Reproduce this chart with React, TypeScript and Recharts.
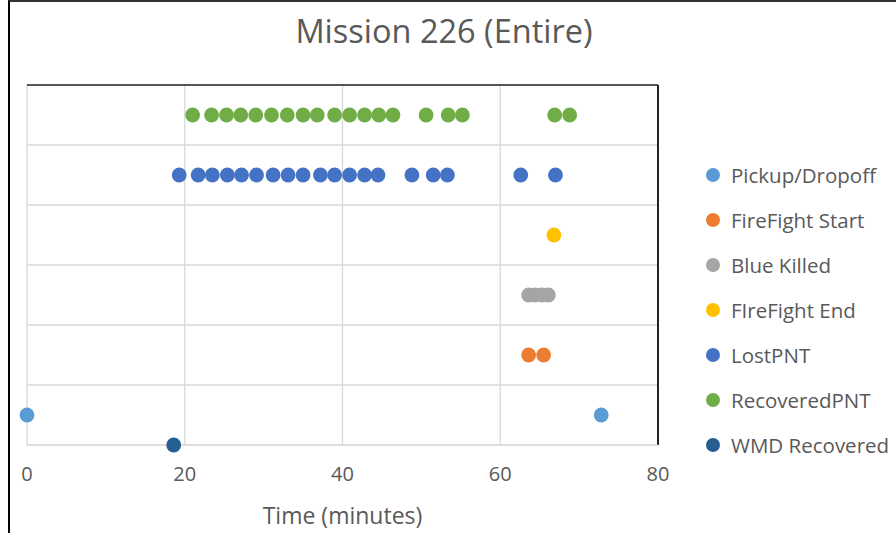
import {
  CartesianGrid,
  ReferenceLine,
  Scatter,
  ScatterChart,
  XAxis,
  YAxis,
} from "recharts";

// Excel-like palette
const TEXT = "#595959";
const GRID = "#d9d9d9";
const FONT = "'Open Sans', sans-serif";

const X_TICKS = [0, 20, 40, 60, 80];
const Y_TICKS = [0, 1, 2, 3, 4, 5, 6];

// minutes of each event
const PICKUP = [0, 72.8];
const FIREFIGHT_START = [63.6, 65.5];
const BLUE_KILLED = [63.6, 64.4, 65.3, 66.1];
const FIREFIGHT_END = [66.8];
const LOST_PNT = [
  19.3, 21.7, 23.5, 25.4, 27.2, 29.1, 31.2, 33.1, 35.0, 37.2, 39.0, 40.9, 42.8,
  44.5, 48.8, 51.5, 53.3, 62.6, 67.0,
];
const RECOVERED_PNT = [
  21.0, 23.4, 25.3, 27.1, 29.0, 31.0, 33.0, 35.0, 36.8, 39.0, 40.9, 42.8, 44.6,
  46.4, 50.6, 53.4, 55.2, 66.9, 68.8,
];
const WMD_RECOVERED = [18.6];

const SERIES = [
  { name: "Pickup/Dropoff", times: PICKUP, row: 0.5, color: "#5B9BD5" },
  { name: "FireFight Start", times: FIREFIGHT_START, row: 1.5, color: "#ED7D31" },
  { name: "Blue Killed", times: BLUE_KILLED, row: 2.5, color: "#A5A5A5" },
  { name: "FIreFight End", times: FIREFIGHT_END, row: 3.5, color: "#FFC000" },
  { name: "LostPNT", times: LOST_PNT, row: 4.5, color: "#4472C4" },
  { name: "RecoveredPNT", times: RECOVERED_PNT, row: 5.5, color: "#70AD47" },
  { name: "WMD Recovered", times: WMD_RECOVERED, row: 0, color: "#255E91" },
];

function dot(color: string) {
  return (props: { cx?: number; cy?: number }) => (
    <circle cx={props.cx} cy={props.cy} r={7.4} fill={color} />
  );
}

function LegendList() {
  return (
    <div
      style={{
        position: "absolute",
        left: 706,
        top: 152,
        fontFamily: FONT,
        fontSize: 20.5,
        color: TEXT,
      }}
    >
      {SERIES.map((s) => (
        <div
          key={s.name}
          style={{ display: "flex", alignItems: "center", height: 45, whiteSpace: "nowrap" }}
        >
          <span
            style={{
              width: 14,
              height: 14,
              borderRadius: "50%",
              background: s.color,
              marginRight: 11,
              flex: "none",
            }}
          />
          {s.name}
        </div>
      ))}
    </div>
  );
}

export default function App() {
  return (
    <div
      style={{
        position: "absolute",
        left: 0,
        top: 0,
        width: 896,
        height: 533,
        background: "#fff",
        overflow: "hidden",
      }}
    >
      <div
        style={{
          position: "absolute",
          left: 8,
          top: 0,
          width: 888,
          height: 533,
          borderLeft: "2px solid #000",
          borderTop: "2px solid #333",
          boxSizing: "border-box",
        }}
      />
      <div
        style={{
          position: "absolute",
          left: 0,
          top: 8,
          width: 888,
          textAlign: "center",
          fontFamily: FONT,
          fontSize: 32.5,
          color: TEXT,
        }}
      >
        Mission 226 (Entire)
      </div>
      <ScatterChart
        width={896}
        height={533}
        margin={{ top: 85, right: 238, bottom: 0, left: 27 }}
        style={{ position: "absolute", left: 0, top: 0 }}
      >
        <CartesianGrid stroke={GRID} strokeWidth={1.3} />
        <XAxis
          type="number"
          dataKey="x"
          domain={[0, 80]}
          ticks={X_TICKS}
          height={88}
          axisLine={{ stroke: GRID }}
          tickLine={false}
          tickMargin={16}
          interval={0}
          tick={{ fontSize: 20, fill: TEXT, fontFamily: FONT }}
          label={{
            value: "Time (minutes)",
            position: "insideBottom",
            offset: 9,
            fontSize: 23,
            fill: TEXT,
            fontFamily: FONT,
          }}
        />
        <YAxis type="number" dataKey="y" domain={[0, 6]} ticks={Y_TICKS} hide />
        <ReferenceLine y={6} stroke="#555" strokeWidth={2} />
        <ReferenceLine x={80} stroke="#222" strokeWidth={2} />
        {SERIES.map((s) => (
          <Scatter
            key={s.name}
            name={s.name}
            data={s.times.map((t) => ({ x: t, y: s.row }))}
            fill={s.color}
            shape={dot(s.color)}
            isAnimationActive={false}
          />
        ))}
      </ScatterChart>
      <LegendList />
    </div>
  );
}
